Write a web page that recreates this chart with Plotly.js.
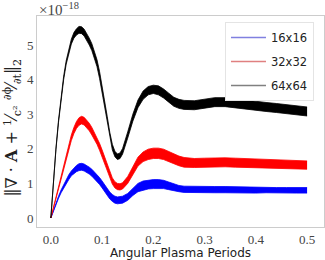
<!DOCTYPE html>
<html><head><meta charset="utf-8">
<script src="https://cdn.plot.ly/plotly-3.0.1.min.js"></script>
<style>html,body{margin:0;padding:0;background:#fff}#c{width:325px;height:260px}</style>
</head><body><div id="c"></div>
<script>
// Time in angular plasma periods
const periods = [0,0.005,0.01,0.015,0.02,0.025,0.03,0.035,0.04,0.045,0.05,0.055,0.06,0.065,0.07,0.075,0.08,0.085,0.09,0.095,0.1,0.105,0.11,0.115,0.12,0.125,0.13,0.135,0.14,
  0.15,0.16,0.17,0.18,0.19,0.2,0.21,0.22,0.23,0.24,0.25,0.26,
  0.28,0.3,0.32,0.34,0.36,0.38,0.4,0.42,0.44,0.46,0.48,0.5];
const seriesNames = ["16x16","32x32","64x64"];
const seriesColors = ["#0000ff","#ff0000","#000000"];
const legendColors = ["#8080e0","#e08080","#808080"];
// band centre (x1e-18)
const grid16 = [0,0.22,0.43,0.6,0.77,0.92,1.06,1.18,1.29,1.37,1.43,1.47,1.48,1.46,1.42,1.37,1.31,1.24,1.16,1.07,0.97,0.86,0.75,0.65,0.58,0.53,0.51,0.51,0.53,
  0.61,0.76,0.88,0.94,0.97,0.98,0.98,0.97,0.93,0.88,0.85,0.83,
  0.82,0.82,0.82,0.82,0.81,0.81,0.81,0.81,0.8,0.8,0.8,0.8];
const grid32 = [0,0.3,0.6,0.9,1.2,1.5,1.8,2.07,2.32,2.53,2.69,2.79,2.83,2.8,2.73,2.63,2.51,2.38,2.23,2.06,1.87,1.66,1.44,1.24,1.07,0.96,0.91,0.9,0.93,
  1.1,1.38,1.63,1.77,1.84,1.87,1.87,1.84,1.78,1.71,1.65,1.61,
  1.59,1.6,1.61,1.61,1.6,1.59,1.58,1.57,1.56,1.55,1.54,1.53];
const grid64 = [0,1.05,2.0,2.8,3.5,4.05,4.5,4.85,5.1,5.28,5.38,5.44,5.43,5.36,5.24,5.1,4.94,4.74,4.48,4.14,3.74,3.3,2.85,2.4,2.05,1.85,1.77,1.8,1.93,
  2.4,2.9,3.3,3.55,3.68,3.72,3.69,3.6,3.48,3.36,3.3,3.27,
  3.26,3.3,3.35,3.35,3.31,3.27,3.24,3.21,3.18,3.15,3.11,3.08];
// noise half-width of each band
const spread16 = [0,0.01,0.02,0.03,0.04,0.05,0.06,0.07,0.07,0.08,0.09,0.1,0.1,0.1,0.1,0.1,0.1,0.1,0.1,0.1,0.1,0.1,0.1,0.1,0.1,0.1,0.1,0.1,0.1,
  0.1,0.11,0.12,0.13,0.13,0.13,0.13,0.12,0.11,0.1,0.09,0.09,
  0.09,0.09,0.09,0.09,0.09,0.09,0.09,0.08,0.08,0.08,0.08,0.08];
const spread32 = [0,0.01,0.02,0.03,0.04,0.05,0.06,0.07,0.08,0.09,0.1,0.11,0.11,0.11,0.11,0.11,0.11,0.1,0.1,0.1,0.1,0.1,0.1,0.09,0.09,0.09,0.09,0.09,0.09,
  0.1,0.11,0.13,0.14,0.15,0.15,0.15,0.15,0.14,0.14,0.14,0.14,
  0.13,0.13,0.13,0.13,0.13,0.13,0.13,0.13,0.12,0.12,0.12,0.12];
const spread64 = [0,0.01,0.02,0.03,0.04,0.05,0.05,0.06,0.07,0.08,0.09,0.1,0.1,0.1,0.1,0.1,0.1,0.1,0.1,0.1,0.1,0.1,0.09,0.08,0.08,0.08,0.08,0.08,0.08,
  0.09,0.1,0.11,0.12,0.12,0.12,0.13,0.13,0.13,0.13,0.13,0.13,
  0.13,0.13,0.13,0.13,0.13,0.13,0.13,0.13,0.13,0.13,0.13,0.13];
const xTicks = [0,0.1,0.2,0.3,0.4,0.5];
const xTickText = ["0.0","0.1","0.2","0.3","0.4","0.5"];
const yTicks = [0,1,2,3,4,5];
const yTickText = ["0","1","2","3","4","5"];

const centres = [grid16, grid32, grid64];
const spreads = [spread16, spread32, spread64];
const traces = [];
centres.forEach((c, i) => {
  const s = spreads[i];
  const lo = c.map((v, k) => v - s[k]);
  const hi = c.map((v, k) => v + s[k]);
  traces.push({x: periods, y: lo, type: "scatter", mode: "lines",
    line: {color: seriesColors[i], width: 0.8}, showlegend: false, hoverinfo: "skip"});
  traces.push({x: periods, y: hi, type: "scatter", mode: "lines", fill: "tonexty",
    fillcolor: seriesColors[i], line: {color: seriesColors[i], width: 0.8}, showlegend: false, hoverinfo: "skip"});
});
seriesNames.forEach((n, i) => {
  traces.push({x: [1], y: [100], type: "scatter", mode: "lines", name: n, fill: "none",
    legendgroup: n, line: {color: legendColors[i], width: 1.5}, hoverinfo: "skip"});
});

const layout = {
  width: 325, height: 260,
  margin: {l: 37, r: 1, t: 16, b: 33},
  paper_bgcolor: "#fff", plot_bgcolor: "#fff",
  showlegend: true,
  legend: {x: 0.655, y: 0.972, xanchor: "left", yanchor: "top",
    bgcolor: "#fff", bordercolor: "#e4e4e4", borderwidth: 1,
    font: {family: "DejaVu Sans", size: 11.5, color: "#222"},
    traceorder: "grouped", tracegroupgap: 5, itemwidth: 35},
  xaxis: {range: [-0.027, 0.533], tickvals: xTicks, ticktext: xTickText,
    showgrid: false, zeroline: false, showline: true, mirror: true,
    linecolor: "#cccccc", linewidth: 1, ticks: "",
    tickfont: {family: "Liberation Serif, DejaVu Serif", size: 13, color: "#444"},
    title: {text: "Angular Plasma Periods", standoff: 4,
      font: {family: "DejaVu Sans", size: 12, color: "#222"}}},
  yaxis: {range: [-0.26, 5.84], tickvals: yTicks, ticktext: yTickText,
    showgrid: false, zeroline: false, showline: true, mirror: true,
    linecolor: "#cccccc", linewidth: 1, ticks: "",
    tickfont: {family: "Liberation Serif, DejaVu Serif", size: 13, color: "#444"}},
  annotations: [
    {xref: "paper", yref: "paper", x: 0, y: 1, xanchor: "left", yanchor: "bottom",
      text: "×10<sup>−18</sup>", showarrow: false, yshift: -4,
      font: {family: "Liberation Serif, DejaVu Serif", size: 15, color: "#444"}},
    {xref: "paper", yref: "paper", x: -0.085, y: 0.47, xanchor: "center", yanchor: "middle",
      textangle: -90, showarrow: false,
      text: "‖∇ · <b>A</b> + <sup>1</sup>⁄<sub>c²</sub> <sup>∂ϕ</sup>⁄<sub>∂t</sub>‖<sub>2</sub>",
      font: {family: "DejaVu Serif", size: 16, color: "#222"}}
  ]
};
Plotly.newPlot("c", traces, layout, {staticPlot: true, displayModeBar: false});
</script></body></html>
